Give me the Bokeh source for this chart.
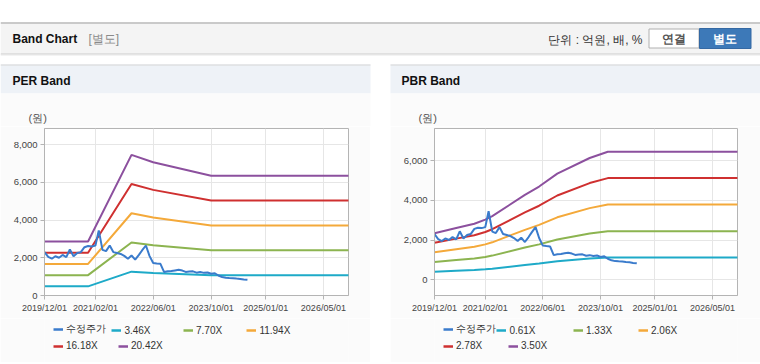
import pandas as pd
from bokeh.plotting import figure
from bokeh.models import (Range1d, FixedTicker, DatetimeTickFormatter, NumeralTickFormatter,
                          Legend, LegendItem, Spacer)
from bokeh.layouts import column, row
from bokeh.embed import file_html
from bokeh.resources import INLINE
from bokeh.core.properties import value

# ---------------- data ----------------
price_months = pd.date_range("2019-12-01", "2024-08-01", freq="MS")
price_values = [2300, 2050, 1950, 2080, 2000, 2150, 2030, 2440, 2080, 2250,
                2300, 2560, 2620, 2600, 2650, 3450, 2420, 2350, 2650, 2300,
                2250, 2200, 2100, 1950, 2120, 1900, 2150, 2400, 2650, 2100,
                1720, 1700, 1680, 1240, 1280, 1300, 1330, 1360, 1320, 1250,
                1270, 1280, 1210, 1240, 1200, 1220, 1150, 1180, 1060, 980,
                940, 930, 920, 900, 880, 850, 830]
price_label = "수정주가"

per_dates = ["2019-12-01", "2020-12-01", "2021-12-01", "2022-06-01", "2023-10-01", "2026-12-01"]
per_labels = ["3.46X", "7.70X", "11.94X", "16.18X", "20.42X"]
per_band_346 = [484, 484, 1263, 1197, 1076, 1076]
per_band_770 = [1078, 1078, 2811, 2664, 2395, 2395]
per_band_1194 = [1672, 1672, 4358, 4131, 3713, 3713]
per_band_1618 = [2265, 2265, 5906, 5598, 5032, 5032]
per_band_2042 = [2859, 2859, 7453, 7065, 6351, 6351]

pbr_dates = ["2019-12-01", "2020-06-01", "2020-11-01", "2021-02-01", "2021-04-01", "2022-01-01",
             "2022-05-01", "2022-10-01", "2023-07-01", "2023-12-01", "2026-12-01"]
pbr_labels = ["0.61X", "1.33X", "2.06X", "2.78X", "3.50X"]
pbr_band_061 = [409, 454, 491, 528, 558, 744, 817, 930, 1068, 1122, 1122]
pbr_band_133 = [891, 991, 1071, 1150, 1217, 1623, 1782, 2028, 2328, 2447, 2447]
pbr_band_206 = [1380, 1535, 1658, 1782, 1885, 2513, 2760, 3142, 3605, 3790, 3790]
pbr_band_278 = [1863, 2071, 2238, 2405, 2544, 3392, 3725, 4240, 4865, 5115, 5115]
pbr_band_350 = [2345, 2608, 2818, 3028, 3203, 4270, 4690, 5338, 6125, 6440, 6440]

x_tick_dates = ["2019-12-01", "2021-02-01", "2022-06-01", "2023-10-01", "2025-01-01", "2026-05-01"]
x_start, x_end = "2019-12-01", "2026-11-28"
per_y_ticks = [0, 2000, 4000, 6000, 8000]
pbr_y_ticks = [0, 2000, 4000, 6000]

# ---------------- style ----------------
PRICE_COLOR = "#3a7bcc"
BAND_COLORS = ["#1eaac8", "#8cb450", "#f4a93a", "#cf3030", "#8c509e"]
FONT = "Liberation Sans"
GRID = "#e6e6e6"
EDGE = "#b4b4b4"
BODY = "#fbfbfb"
HEAD = "#eef2f7"
W, H = 760, 364


def ms(d):
    return pd.Timestamp(d).value / 1e6


def make_chart(band_dates, bands, yr, yticks, mb_left, mb_right):
    p = figure(width=370, height=192, x_axis_type="datetime",
               x_range=Range1d(pd.Timestamp(x_start), pd.Timestamp(x_end)),
               y_range=Range1d(*yr), title=None,
               output_backend="svg", toolbar_location=None,
               min_border_left=mb_left, min_border_right=mb_right,
               min_border_top=2, min_border_bottom=23,
               background_fill_color="white", border_fill_color=BODY,
               outline_line_color=EDGE)
    p.xaxis.ticker = FixedTicker(ticks=[ms(d) for d in x_tick_dates], minor_ticks=[])
    fmt = "%Y/%m/%d"
    p.xaxis.formatter = DatetimeTickFormatter(milliseconds=fmt, seconds=fmt, minsec=fmt, minutes=fmt,
                                              hourmin=fmt, hours=fmt, days=fmt, months=fmt, years=fmt)
    p.yaxis.ticker = FixedTicker(ticks=yticks, minor_ticks=[])
    p.yaxis.formatter = NumeralTickFormatter(format="0,0")
    p.axis.axis_line_color = EDGE
    p.axis.major_tick_line_color = EDGE
    p.axis.major_tick_out = 4
    p.axis.major_tick_in = 0
    p.axis.minor_tick_line_color = None
    p.axis.major_label_standoff = 3
    p.axis.major_label_text_font = FONT
    p.axis.major_label_text_color = "#444"
    p.xaxis.major_label_text_font_size = "9px"
    p.yaxis.major_label_text_font_size = "9.5px"
    p.grid.grid_line_color = GRID

    bd = pd.to_datetime(band_dates)
    for vals, col in zip(bands, BAND_COLORS):
        p.line(bd, vals, line_color=col, line_width=2)
    p.line(price_months, price_values, line_color=PRICE_COLOR, line_width=2)
    return p


def make_legend(band_dates, bands, labels, mb_left, mb_right, leg_pos):
    # legend strip: the series are plotted here too, but lie outside this strip's ranges,
    # so only the legend entries show.
    f = figure(width=370, height=44, x_range=Range1d(0, 1), y_range=Range1d(0, 1),
               output_backend="svg", toolbar_location=None, title=None,
               x_axis_location=None, y_axis_location=None,
               min_border_left=mb_left, min_border_right=mb_right,
               min_border_top=0, min_border_bottom=0,
               outline_line_color=None, background_fill_color=BODY, border_fill_color=BODY)
    f.grid.visible = False
    bd = pd.to_datetime(band_dates)
    rs = [f.line(price_months, price_values, line_color=PRICE_COLOR, line_width=2.5)]
    for vals, col in zip(bands, BAND_COLORS):
        rs.append(f.line(bd, vals, line_color=col, line_width=2.5))
    names = [price_label] + labels
    for r, lab, (lx, ly) in zip(rs, names, leg_pos):
        leg = Legend(items=[LegendItem(label=lab, renderers=[r])], location=(lx, ly),
                     orientation="horizontal", padding=0, margin=0, spacing=0,
                     glyph_width=10, glyph_height=12, label_height=12, label_standoff=3,
                     label_text_font=FONT, label_text_font_size="10px", label_text_color="#333",
                     background_fill_alpha=0, border_line_alpha=0)
        f.add_layout(leg)
    return f


# ---------------- header (page chrome) ----------------
hdr = figure(width=W, height=126, x_range=Range1d(0, W), y_range=Range1d(126, 0),
             output_backend="svg", toolbar_location=None, title=None,
             x_axis_location=None, y_axis_location=None, min_border=0,
             outline_line_color=None, background_fill_color="white", border_fill_color="white")
hdr.grid.visible = False
hdr.quad(left=[0], right=[W], top=[23], bottom=[53], fill_color="#f4f4f4", line_color=None)
hdr.segment(x0=[0], y0=[22.5], x1=[W], y1=[22.5], line_color="#b9b9b9", line_width=1.5)
hdr.segment(x0=[0], y0=[53.5], x1=[W], y1=[53.5], line_color="#c6c6c6", line_width=1)
hdr.segment(x0=[0], y0=[54.5], x1=[W], y1=[54.5], line_color="#e8e8e8", line_width=1)
hdr.text(x=[12], y=[38.5], text=["Band Chart"], text_font=value(FONT), text_font_style="bold",
         text_font_size="12px", text_baseline="middle", text_color="#111")
hdr.text(x=[88], y=[38.5], text=["[별도]"], text_font=value(FONT),
         text_font_size="12px", text_baseline="middle", text_color="#8a8a8a")
hdr.text(x=[642], y=[39], text=["단위 : 억원, 배, %"], text_font=value(FONT), text_align="right",
         text_font_size="12px", text_baseline="middle", text_color="#333")
hdr.quad(left=[648.5], right=[698.5], top=[28.5], bottom=[47.5], fill_color="white",
         line_color="#b0b0b0")
hdr.quad(left=[699], right=[750.5], top=[28], bottom=[48], fill_color="#3d79b8",
         line_color="#3569a3")
hdr.text(x=[673.5], y=[38.5], text=["연결"], text_font=value(FONT), text_font_style="bold",
         text_align="center", text_font_size="12px", text_baseline="middle", text_color="#555")
hdr.text(x=[724.75], y=[38.5], text=["별도"], text_font=value(FONT), text_font_style="bold",
         text_align="center", text_font_size="12px", text_baseline="middle", text_color="white")
# panel heads and body tops
hdr.quad(left=[0, 390], right=[370, W], top=[64, 64], bottom=[93, 93], fill_color=HEAD, line_color=None)
hdr.segment(x0=[0, 390], y0=[64.5, 64.5], x1=[370, W], y1=[64.5, 64.5], line_color="#d6d6d6", line_width=1)
hdr.quad(left=[0, 390], right=[370, W], top=[93, 93], bottom=[126, 126], fill_color=BODY, line_color=None)
hdr.text(x=[12, 401], y=[80.5, 80.5], text=["PER Band", "PBR Band"], text_font=value(FONT),
         text_font_style="bold", text_font_size="12px", text_baseline="middle", text_color="#111")
hdr.text(x=[28, 418], y=[117.3, 117.3], text=["(원)", "(원)"], text_font=value(FONT),
         text_font_size="11px", text_baseline="middle", text_color="#555")

# ---------------- panels ----------------
per_leg = [(9, 25.7), (67.4, 25.7), (139, 25.7), (202.4, 25.7), (9, 10.5), (74, 10.5)]
pbr_leg = [(9, 25.7), (62.4, 25.7), (139, 25.7), (204, 25.7), (9, 10.5), (74, 10.5)]

per_bands = [per_band_346, per_band_770, per_band_1194, per_band_1618, per_band_2042]
pbr_bands = [pbr_band_061, pbr_band_133, pbr_band_206, pbr_band_278, pbr_band_350]

per = make_chart(per_dates, per_bands, (0, 8850), per_y_ticks, 44, 22)
pbr = make_chart(pbr_dates, pbr_bands, (-790, 7610), pbr_y_ticks, 44, 23)
per_leg_fig = make_legend(per_dates, per_bands, per_labels, 44, 22, per_leg)
pbr_leg_fig = make_legend(pbr_dates, pbr_bands, pbr_labels, 44, 23, pbr_leg)

foot = figure(width=W, height=2, x_range=Range1d(0, W), y_range=Range1d(364, 362),
              output_backend="svg", toolbar_location=None, title=None,
              x_axis_location=None, y_axis_location=None, min_border=0,
              outline_line_color=None, background_fill_color="white", border_fill_color="white")
foot.grid.visible = False
foot.quad(left=[0, 390], right=[370, W], top=[362, 362], bottom=[363, 363],
          fill_color="#d2d2d2", line_color=None)

left = column(per, per_leg_fig)
right = column(pbr, pbr_leg_fig)
layout = column(hdr, row(left, Spacer(width=20, height=236), right), foot)

open("out.html", "w").write(file_html(layout, INLINE))
